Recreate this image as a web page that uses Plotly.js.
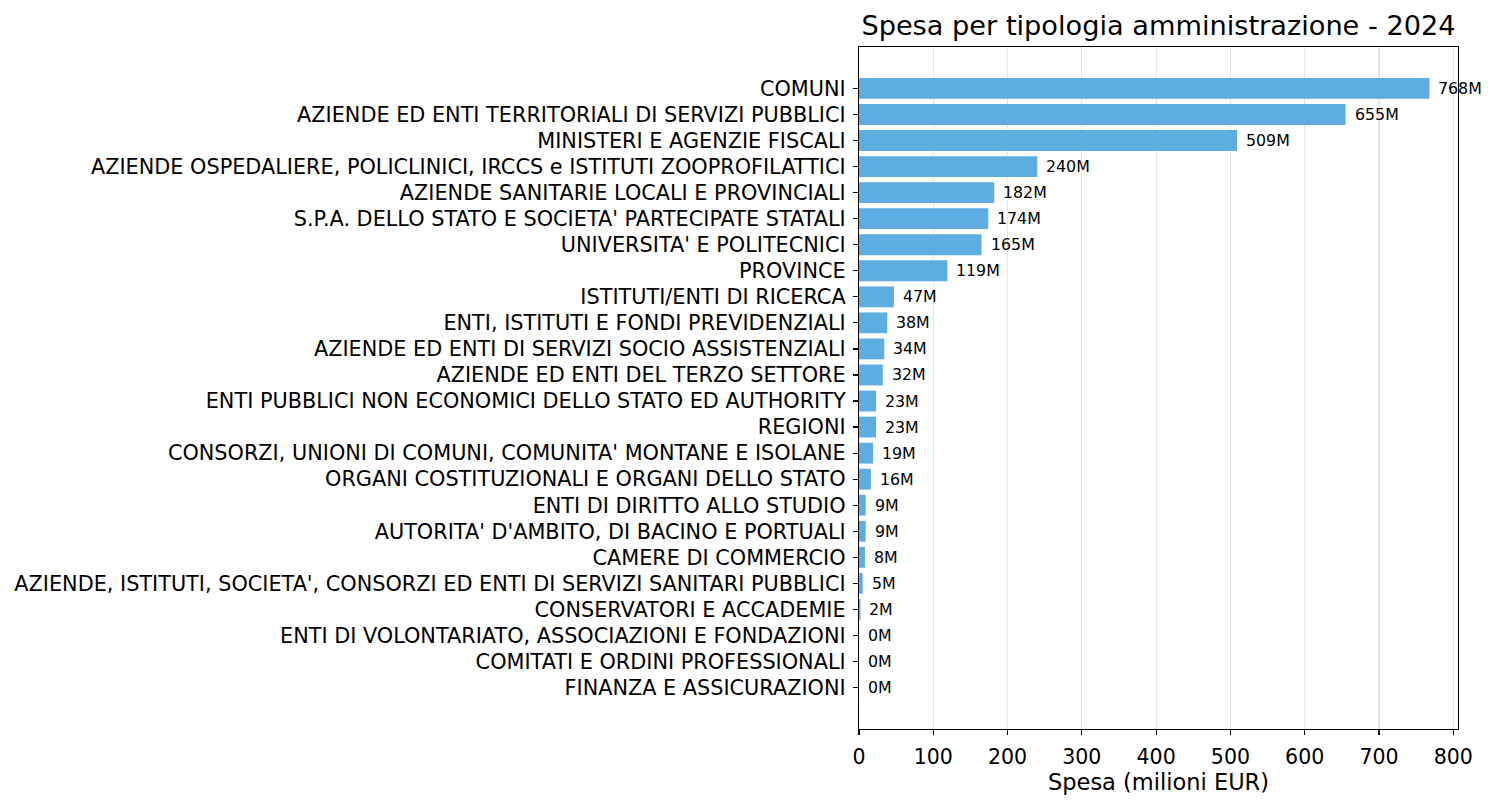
<!DOCTYPE html>
<html><head><meta charset="utf-8">
<script src="https://cdn.plot.ly/plotly-3.0.1.min.js"></script>
<style>html,body{margin:0;padding:0;background:#fff}#chart{width:1499px;height:810px}</style>
</head><body><div id="chart"></div>
<script>
const categories = [
  "COMUNI",
  "AZIENDE ED ENTI TERRITORIALI DI SERVIZI PUBBLICI",
  "MINISTERI E AGENZIE FISCALI",
  "AZIENDE OSPEDALIERE, POLICLINICI, IRCCS e ISTITUTI ZOOPROFILATTICI",
  "AZIENDE SANITARIE LOCALI E PROVINCIALI",
  "S.P.A. DELLO STATO E SOCIETA' PARTECIPATE STATALI",
  "UNIVERSITA' E POLITECNICI",
  "PROVINCE",
  "ISTITUTI/ENTI DI RICERCA",
  "ENTI, ISTITUTI E FONDI PREVIDENZIALI",
  "AZIENDE ED ENTI DI SERVIZI SOCIO ASSISTENZIALI",
  "AZIENDE ED ENTI DEL TERZO SETTORE",
  "ENTI PUBBLICI NON ECONOMICI DELLO STATO ED AUTHORITY",
  "REGIONI",
  "CONSORZI, UNIONI DI COMUNI, COMUNITA' MONTANE E ISOLANE",
  "ORGANI COSTITUZIONALI E ORGANI DELLO STATO",
  "ENTI DI DIRITTO ALLO STUDIO",
  "AUTORITA' D'AMBITO, DI BACINO E PORTUALI",
  "CAMERE DI COMMERCIO",
  "AZIENDE, ISTITUTI, SOCIETA', CONSORZI ED ENTI DI SERVIZI SANITARI PUBBLICI",
  "CONSERVATORI E ACCADEMIE",
  "ENTI DI VOLONTARIATO, ASSOCIAZIONI E FONDAZIONI",
  "COMITATI E ORDINI PROFESSIONALI",
  "FINANZA E ASSICURAZIONI"
];
const spesaMilioni = [768, 655, 509, 240, 182, 174, 165, 119, 47, 38, 34, 32, 23, 23, 19, 16, 9, 9, 8, 5, 2, 0.2, 0.1, 0.05];
const valueLabels = ["768M","655M","509M","240M","182M","174M","165M","119M","47M","38M","34M","32M","23M","23M","19M","16M","9M","9M","8M","5M","2M","0M","0M","0M"];
const xTicks = [0,100,200,300,400,500,600,700,800];

const font = "DejaVu Sans, sans-serif";
const trace = {
  type: "bar", orientation: "h",
  x: spesaMilioni, y: categories,
  marker: {color: "#5DADE2"},
  hoverinfo: "skip"
};
const annotations = spesaMilioni.map((v, i) => ({
  x: v, y: categories[i], xref: "x", yref: "y",
  text: valueLabels[i], showarrow: false,
  xanchor: "left", yanchor: "middle", xshift: 7,
  font: {family: font, size: 15.8, color: "#000"}
}));
const n = categories.length;
const layout = {
  width: 1499, height: 810,
  margin: {l: 859, r: 41, t: 47, b: 81},
  paper_bgcolor: "#fff", plot_bgcolor: "#fff",
  bargap: 0.2,
  showlegend: false,
  title: {text: "Spesa per tipologia amministrazione - 2024", font: {family: font, size: 27.2, color: "#000"},
          xref: "paper", x: 0.5, xanchor: "center", y: 0.968, yanchor: "middle"},
  xaxis: {
    range: [0, 806.4], tickvals: xTicks, ticktext: xTicks.map(String),
    showgrid: true, gridcolor: "#e6e6e6", gridwidth: 1.2,
    showline: true, mirror: true, linecolor: "#000", linewidth: 1.2,
    ticks: "outside", ticklen: 5, tickcolor: "#000", tickwidth: 1.2,
    zeroline: false,
    tickfont: {family: font, size: 20.5, color: "#000"},
    ticklabelstandoff: 4,
    title: {text: "Spesa (milioni EUR)", font: {family: font, size: 22.5, color: "#000"}, standoff: 5}
  },
  yaxis: {
    type: "category", categoryorder: "array", categoryarray: categories,
    range: [n - 1 + 1.59, -1.59],
    showgrid: false, showline: true, mirror: true, linecolor: "#000", linewidth: 1.2,
    ticks: "outside", ticklen: 5, tickcolor: "#000", tickwidth: 1.2,
    ticklabelstandoff: 3,
    tickfont: {family: font, size: 20.8, color: "#000"},
    automargin: false
  },
  annotations: annotations
};
Plotly.newPlot("chart", [trace], layout, {displayModeBar: false, staticPlot: true});
</script></body></html>
